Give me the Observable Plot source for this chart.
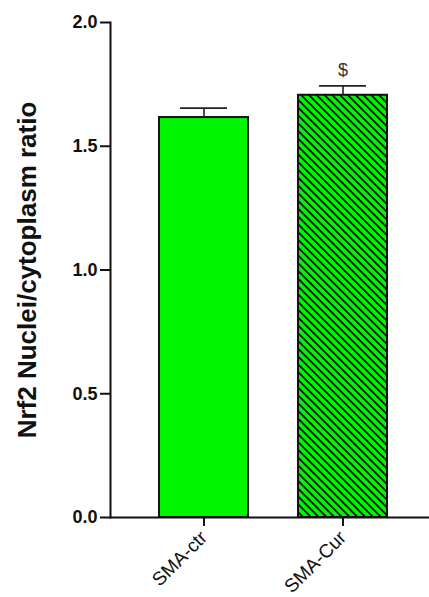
<!DOCTYPE html>
<html>
<head>
<meta charset="utf-8">
<script src="https://cdn.jsdelivr.net/npm/d3@7"></script>
<script src="https://cdn.jsdelivr.net/npm/@observablehq/plot@0.6"></script>
<style>
  html, body { margin: 0; padding: 0; background: #fff; }
  #chart svg { display: block; font-family: Arial, "Liberation Sans", sans-serif; }
</style>
</head>
<body>
<div id="chart"></div>
<script>
// ---- data ----
const groups = ["SMA-ctr", "SMA-Cur"];
const means = [1.616, 1.706];
const sems = [0.038, 0.038];
const hatched = [false, true];
const marks = ["", "$"];
const yTicks = [0, 0.5, 1.0, 1.5, 2.0];
const yLabel = "Nrf2 Nuclei/cytoplasm ratio";

const data = groups.map((g, i) => ({group: g, mean: means[i], sem: sems[i], hatch: hatched[i], mark: marks[i]}));

const green = "#00f500";

const plot = Plot.plot({
  width: 429,
  height: 597,
  marginLeft: 110,
  marginRight: 0,
  marginTop: 22,
  marginBottom: 80,
  style: {fontFamily: 'Arial, "Liberation Sans", sans-serif', color: "#111", background: "#fff"},
  x: {domain: groups, range: [110, 436], paddingInner: 0.357, paddingOuter: 0.343, label: null},
  y: {domain: [0, 2], label: null},
  marks: [
    Plot.barY(data.filter(d => !d.hatch), {x: "group", y: "mean", fill: green, stroke: "#111", strokeWidth: 2}),
    Plot.barY(data.filter(d => d.hatch), {x: "group", y: "mean", fill: "url(#hatch)", stroke: "#111", strokeWidth: 2}),
    Plot.ruleX(data, {x: "group", y1: "mean", y2: d => d.mean + d.sem, stroke: "#222", strokeWidth: 1.6}),
    Plot.tickY(data, {x: "group", y: d => d.mean + d.sem, insetLeft: 21, insetRight: 21, stroke: "#222", strokeWidth: 1.6}),
    Plot.text(data.filter(d => d.mark), {x: "group", y: d => d.mean + d.sem, text: "mark", dy: -16, fontSize: 18, fill: "#333"}),
    Plot.ruleY([0], {stroke: "#111", strokeWidth: 2}),
    Plot.frame({anchor: "left", stroke: "#111", strokeWidth: 2}),
    Plot.axisY({ticks: yTicks, tickFormat: d3.format(".1f"), tickSize: 10, tickPadding: 3, strokeWidth: 2, fontSize: 18, fontWeight: "bold", label: null}),
    Plot.axisX({tickSize: 9, tickPadding: 8, strokeWidth: 2, fontSize: 19, tickRotate: -45, label: null}),
    Plot.text([yLabel], {frameAnchor: "left", textAnchor: "middle", rotate: -90, dx: -83, fontSize: 26, fontWeight: "bold", fill: "#111"})
  ]
});

// hatch pattern
const svg = d3.select(plot);
const defs = svg.insert("defs", ":first-child");
const pat = defs.append("pattern")
  .attr("id", "hatch")
  .attr("patternUnits", "userSpaceOnUse")
  .attr("width", 5.5)
  .attr("height", 5.5)
  .attr("patternTransform", "rotate(-45)");
pat.append("rect").attr("width", 5.5).attr("height", 5.5).attr("fill", green);
pat.append("line").attr("x1", 2.75).attr("y1", 0).attr("x2", 2.75).attr("y2", 5.5).attr("stroke", "#111").attr("stroke-width", 1.8);

document.getElementById("chart").appendChild(plot);
</script>
</body>
</html>
